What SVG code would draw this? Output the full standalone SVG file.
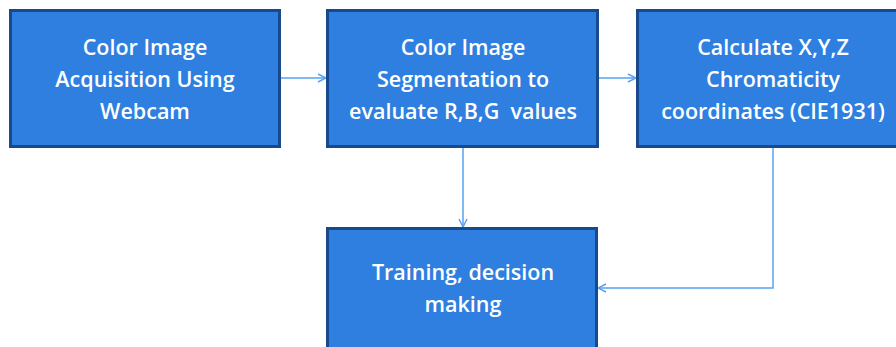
<svg xmlns="http://www.w3.org/2000/svg" width="896" height="347" viewBox="0 0 896 347">
<style>
.box{fill:#2E7FE0;stroke:#17498C;stroke-width:3}
.t{font-family:"Open Sans","Liberation Sans",sans-serif;font-size:21.5px;font-weight:600;fill:#fff;text-anchor:middle;white-space:pre}
.c{fill:none;stroke:#5AA2EE;stroke-width:1.5}
</style>
<defs>
<marker id="ah" viewBox="0 0 10 10" refX="9" refY="5" markerWidth="10" markerHeight="10" markerUnits="userSpaceOnUse" orient="auto">
<path d="M1,1 L9,5 L1,9" fill="none" stroke="#5AA2EE" stroke-width="1.5"/>
</marker>
</defs>
<rect width="896" height="347" fill="#fff"/>
<g id="connectors">
<line class="c" x1="280" y1="78" x2="326" y2="78" marker-end="url(#ah)"/>
<line class="c" x1="598" y1="78" x2="636" y2="78" marker-end="url(#ah)"/>
<line class="c" x1="463" y1="147" x2="463" y2="227" marker-end="url(#ah)"/>
<polyline class="c" points="773,147 773,288 598,288" marker-end="url(#ah)"/>
</g>
<g id="n1">
<rect class="box" x="10.5" y="10.5" width="269" height="136"/>
<text class="t" x="145" y="55">Color Image</text>
<text class="t" x="145" y="87">Acquisition Using</text>
<text class="t" x="145" y="119">Webcam</text>
</g>
<g id="n2">
<rect class="box" x="327.5" y="10.5" width="270" height="136"/>
<text class="t" x="463" y="55">Color Image</text>
<text class="t" x="463" y="87">Segmentation to</text>
<text class="t" x="463" y="119" xml:space="preserve">evaluate R,B,G  values</text>
</g>
<g id="n3">
<rect class="box" x="637.5" y="10.5" width="270" height="136"/>
<text class="t" x="773" y="55">Calculate X,Y,Z</text>
<text class="t" x="773" y="87">Chromaticity</text>
<text class="t" x="773" y="119">coordinates (CIE1931)</text>
</g>
<g id="n4">
<rect class="box" x="327.5" y="228.5" width="269" height="130"/>
<text class="t" x="463" y="280">Training, decision</text>
<text class="t" x="463" y="312">making</text>
</g>
</svg>
